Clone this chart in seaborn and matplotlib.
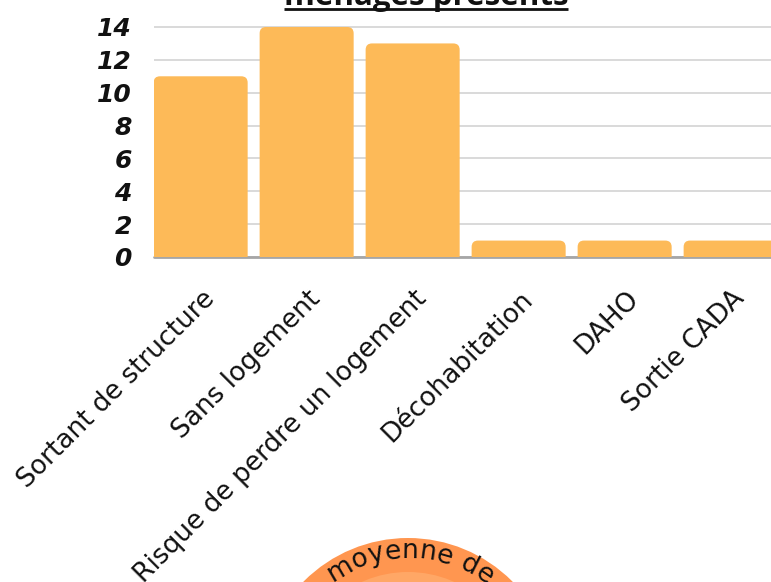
import numpy as np
import pandas as pd
import matplotlib
matplotlib.use("Agg")
import matplotlib.pyplot as plt
import matplotlib.transforms as mtransforms
import seaborn as sns
from matplotlib.patches import FancyBboxPatch, Circle
from matplotlib.font_manager import FontProperties

# Données : situation des ménages présents
categories = ["Sortant de structure", "Sans logement", "Risque de perdre un logement",
              "Décohabitation", "DAHO", "Sortie CADA"]
menages = [11, 14, 13, 1, 1, 1]
yticks = [0, 2, 4, 6, 8, 10, 12, 14]
title_text = "ménages présents"
badge_text = "moyenne de"

BAR_COLOR = "#FDBA58"
W, H = 771, 582

sns.set_theme(style="white")
plt.rcParams["font.family"] = ["DejaVu Sans"]

fig = plt.figure(figsize=(W / 100, H / 100), dpi=100)

# axes placed in pixel terms: 106 px per category, 16.43 px per unit
px_x, px_y = 106.0, 230.0 / 14
x0, x1 = -0.44, 5.5
y0, y1 = 0, 14.1
left_px, base_px = 154, 257
ax = fig.add_axes([left_px / W, (H - base_px) / H,
                   (x1 - x0) * px_x / W, (y1 - y0) * px_y / H])

df = pd.DataFrame({"categorie": categories, "menages": menages})
sns.barplot(data=df, x="categorie", y="menages", color=BAR_COLOR,
            width=0.887, saturation=1, ax=ax, zorder=3)

# rounded tops: replace each bar with a rounded box, bottom pushed under the axis
aspect = px_x / px_y
for p in list(ax.patches):
    bx, bw, bh = p.get_x(), p.get_width(), p.get_height()
    p.remove()
    fb = FancyBboxPatch((bx, -1), bw, bh + 1,
                        boxstyle="round,pad=0,rounding_size=0.06",
                        mutation_aspect=aspect, facecolor=BAR_COLOR,
                        edgecolor="none", zorder=3, clip_on=True)
    ax.add_patch(fb)

ax.set_xlim(x0, x1)
ax.set_ylim(y0, y1)
ax.set_yticks(yticks)
ax.set_yticklabels([str(v) for v in yticks])
for s in ax.spines.values():
    s.set_visible(False)
ax.grid(axis="y", color="#d9d9d9", linewidth=1.4, zorder=0)
ax.grid(axis="x", visible=False)
ax.axhline(0, color="#a6a6a6", linewidth=2.0, zorder=2, clip_on=False)
ax.tick_params(axis="both", length=0)
ax.tick_params(axis="y", pad=16)
for t in ax.get_yticklabels():
    t.set_fontsize(18)
    t.set_fontweight("bold")
    t.set_fontstyle("italic")
    t.set_color("#111111")
ax.set_xlabel("")
ax.set_ylabel("")

# x labels rotated 45 degrees, ending near each bar
ax.set_xticks(range(len(categories)))
ax.set_xticklabels([])
for i, lab in enumerate(categories):
    tr = ax.get_xaxis_transform() + mtransforms.ScaledTranslation(10 / 100, -38 / 100, fig.dpi_scale_trans)
    ax.text(i, 0, lab, transform=tr, rotation=45, rotation_mode="anchor",
            ha="right", va="center", fontsize=19, color="#111111",
            clip_on=False)

# overlay in pixel coordinates for title and badge
ov = fig.add_axes([0, 0, 1, 1], zorder=5)
ov.set_xlim(0, W)
ov.set_ylim(H, 0)
ov.axis("off")
ov.patch.set_alpha(0)

tt = ov.text(426, 5, title_text, ha="center", va="baseline", fontsize=22.5,
             fontweight="bold", color="#111111", family=["Open Sans", "DejaVu Sans"])
fig.canvas.draw()
r = fig.canvas.get_renderer()
bb = tt.get_window_extent(r)
ov.plot([bb.x0, bb.x1], [8.8, 8.8], color="#111111", linewidth=2.0,
        solid_capstyle="butt", clip_on=False)

# orange badge with curved text
cx, cy, R = 408, 685, 147
ov.add_patch(Circle((cx, cy), R, facecolor="#FF9650", edgecolor="none"))
ov.add_patch(Circle((cx, cy), 113, facecolor="#FFA766", edgecolor="none"))
fp = FontProperties(family=["DejaVu Sans"], size=19)
rt = 127
def tw(s):
    if not s:
        return 0.0
    w, h, d = r.get_text_width_height_descent(s, fp, ismath=False)
    return w
total = tw(badge_text)
track = 1.0
start = -total * track / 2 + 2
for i, ch in enumerate(badge_text):
    if ch == " ":
        continue
    mid = (tw(badge_text[:i]) + tw(badge_text[:i + 1])) / 2 * track + start
    th = mid / rt
    px = cx + rt * np.sin(th)
    py = cy - rt * np.cos(th)
    ov.text(px, py, ch, fontproperties=fp, rotation=-np.degrees(th),
            rotation_mode="anchor", ha="center", va="baseline", color="#111111")

fig.savefig("out.png", dpi=100)
